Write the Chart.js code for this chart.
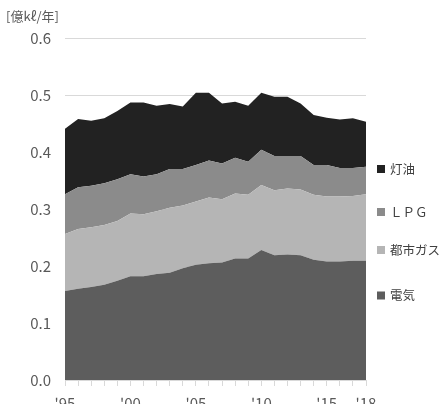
<!DOCTYPE html>
<html>
<head>
<meta charset="utf-8">
<script src="https://cdn.jsdelivr.net/npm/chart.js@4/dist/chart.umd.min.js"></script>
<style>
html,body{margin:0;padding:0;background:#fff;}
#wrap{width:443px;height:404px;}
</style>
</head>
<body>
<div id="wrap"><canvas id="c" width="443" height="404"></canvas></div>
<script>
const years = ['1995','1996','1997','1998','1999','2000','2001','2002','2003','2004','2005','2006','2007','2008','2009','2010','2011','2012','2013','2014','2015','2016','2017','2018'];
const xTickLabels = ["'95","","","","","'00","","","","","'05","","","","","'10","","","","","'15","","","'18"];
const yTicks = [0,0.1,0.2,0.3,0.4,0.5,0.6];
const unitLabel = '[億kℓ/年]';
const seriesNames = ['電気','都市ガス','ＬＰＧ','灯油'];
const electricity = [0.156,0.160,0.163,0.167,0.174,0.182,0.182,0.186,0.188,0.196,0.202,0.205,0.206,0.213,0.213,0.228,0.219,0.220,0.219,0.211,0.208,0.208,0.209,0.209];
const cityGas = [0.100,0.105,0.105,0.105,0.105,0.110,0.109,0.110,0.114,0.110,0.111,0.115,0.111,0.114,0.112,0.114,0.114,0.116,0.115,0.114,0.114,0.114,0.114,0.117];
const lpg = [0.070,0.073,0.073,0.073,0.073,0.069,0.066,0.065,0.068,0.064,0.064,0.065,0.063,0.063,0.058,0.062,0.060,0.057,0.059,0.052,0.055,0.050,0.049,0.048];
const kerosene = [0.115,0.120,0.114,0.114,0.120,0.126,0.130,0.120,0.114,0.110,0.127,0.119,0.105,0.098,0.098,0.100,0.104,0.104,0.092,0.088,0.083,0.085,0.087,0.079];

const colors = ['#5d5d5d','#b5b5b5','#8b8b8b','#222222'];
const legendYs = [295.5, 250, 212, 169];
const FONT = '"Noto Sans CJK JP","Noto Sans",sans-serif';

function ds(label, data, color, fill){
  return {label, data, backgroundColor: color, borderColor: color, borderWidth: 0,
    pointRadius: 0, fill, tension: 0};
}

const overlay = {
  id: 'overlay',
  afterDraw(chart){
    const ctx = chart.ctx;
    ctx.save();
    ctx.fillStyle = '#595959';
    ctx.font = '13px ' + FONT;
    ctx.textBaseline = 'middle';
    ctx.textAlign = 'left';
    ctx.fillText(unitLabel, 6, 16);
    ctx.font = '12.5px ' + FONT;
    const sets = [kerosene, lpg, cityGas, electricity];
    for (let i = 0; i < seriesNames.length; i++){
      const y = legendYs[i];
      ctx.fillStyle = colors[i];
      ctx.fillRect(377, y - 4, 8, 8);
      ctx.fillStyle = '#404040';
      ctx.fillText(seriesNames[i], 390, y);
    }
    ctx.restore();
  }
};

new Chart(document.getElementById('c'), {
  type: 'line',
  data: {
    labels: years,
    datasets: [
      ds(seriesNames[0], electricity, colors[0], 'origin'),
      ds(seriesNames[1], cityGas, colors[1], '-1'),
      ds(seriesNames[2], lpg, colors[2], '-1'),
      ds(seriesNames[3], kerosene, colors[3], '-1')
    ]
  },
  options: {
    responsive: false,
    animation: false,
    layout: {padding: {left: 0, right: 77, top: 38, bottom: 0}},
    plugins: {legend: {display: false}, tooltip: {enabled: false}},
    elements: {line: {borderWidth: 0}},
    scales: {
      x: {
        type: 'category',
        offset: false,
        border: {display: true, color: '#d9d9d9', width: 1},
        grid: {display: true, drawOnChartArea: false, drawTicks: true, tickLength: 6, color: '#d9d9d9'},
        ticks: {
          autoSkip: false, maxRotation: 0, minRotation: 0, padding: 8,
          color: '#595959', font: {family: FONT, size: 15},
          callback: (v, i) => xTickLabels[i]
        },
        afterFit: s => { s.height = 24; }
      },
      y: {
        stacked: true,
        min: 0, max: 0.6,
        border: {display: false},
        grid: {color: '#d9d9d9', drawTicks: false},
        ticks: {
          stepSize: 0.1, padding: 14, color: '#595959',
          font: {family: FONT, size: 15},
          callback: v => Number(v).toFixed(1)
        },
        afterFit: s => { s.width = 65; }
      }
    }
  },
  plugins: [overlay]
});
</script>
</body>
</html>
